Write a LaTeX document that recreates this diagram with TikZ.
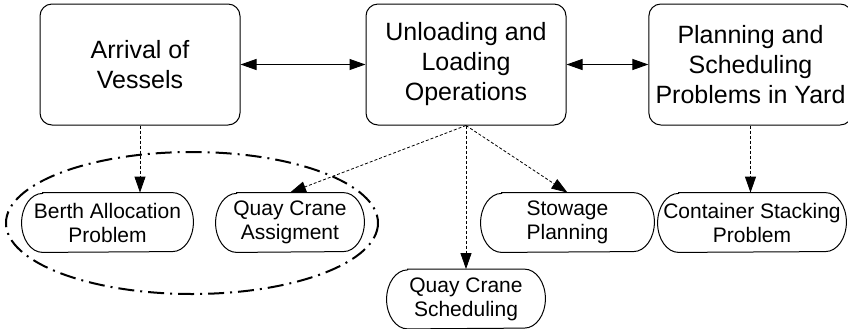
\documentclass[tikz,border=0pt]{standalone}
\usepackage{fontspec}
\setmainfont{Liberation Sans}
\usetikzlibrary{arrows.meta}

% outline of a problem node: straight top and bottom, elliptic ends
\newcommand\probline[1]{\draw[line width=0.5pt] ([xshift=10.5pt]#1.north west) -- ([xshift=-10.5pt]#1.north east) arc[start angle=90,end angle=-90,x radius=10.5pt,y radius=14.75pt] -- ([xshift=10.5pt]#1.south west) arc[start angle=270,end angle=90,x radius=10.5pt,y radius=14.75pt] -- cycle;}

\begin{document}
\begin{tikzpicture}[x=0.5pt,y=-0.5pt,
	area/.style={draw,rounded corners=6pt,minimum height=60.5pt,align=center,font=\fontsize{12.5}{15}\selectfont,line width=0.5pt},
	prob/.style={rectangle,minimum height=29.5pt,inner xsep=1pt,align=center,font=\fontsize{10.5}{12}\selectfont},
	link/.style={{Triangle[length=8pt,width=5.5pt]}-{Triangle[length=8pt,width=5.5pt]},line width=0.5pt},
	dep/.style={-{Triangle[length=8pt,width=5.5pt]},dash pattern=on 1.5pt off 1pt,line width=0.4pt}]
			\useasboundingbox (0,0) rectangle (848,328);
			\node[area,minimum width=100pt](arrival) at(140,64.5){Arrival of\\Vessels};
			\node[area,minimum width=100pt](unload) at(466,64.5){Unloading and\\Loading\\Operations};
			\node[area,minimum width=96.5pt](yard) at(750.5,64.5){Planning and\\Scheduling\\Problems in Yard};
			\draw[link](arrival)--(unload);
			\draw[link](unload)--(yard);
			\node[prob,minimum width=85.5pt](berth) at(107.5,222.5){Berth Allocation\\Problem};
			\node[prob,minimum width=74pt](qca) at(290,222.5){Quay Crane\\Assigment};
			\node[prob,minimum width=86.5pt](stow) at(567.5,222.5){Stowage\\Planning};
			\node[prob,minimum width=94pt](stack) at(752,222.5){Container Stacking\\Problem};
			\node[prob,minimum width=79pt](qcs) at(466,299){Quay Crane\\Scheduling};
			\probline{berth}
			\probline{qca}
			\probline{stow}
			\probline{stack}
			\probline{qcs}
			\draw[dep](arrival.south)--(arrival.south |- berth.north);
			\draw[dep](unload.south)--(qca.north);
			\draw[dep](unload.south)--(qcs.north);
			\draw[dep](unload.south)--(stow.north);
			\draw[dep](yard.south)--(yard.south |- stack.north);
			\draw[line width=1pt,dash pattern=on 8pt off 3pt on 1pt off 3pt](192,223) ellipse [x radius=186, y radius=71];
			\end{tikzpicture}
\end{document}
